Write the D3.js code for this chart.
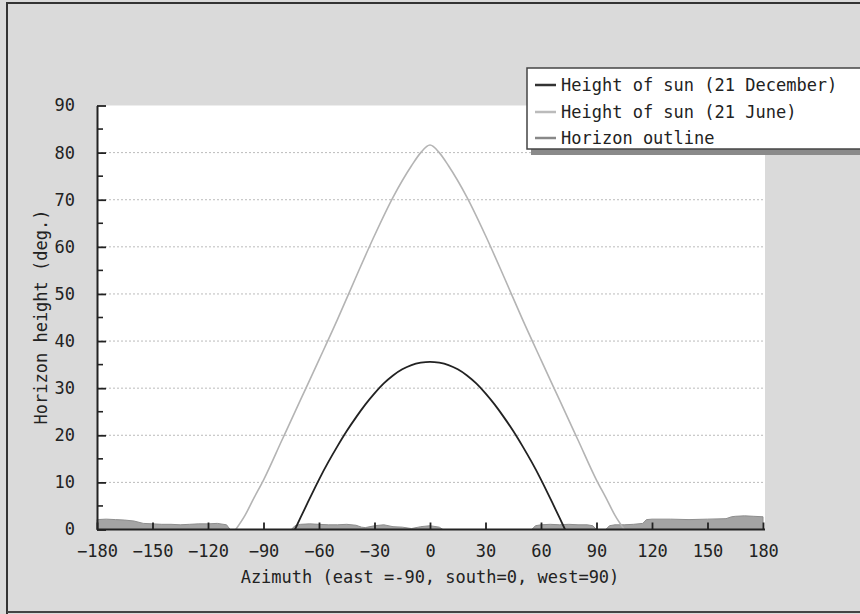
<!DOCTYPE html>
<html><head><meta charset="utf-8">
<script src="https://cdn.jsdelivr.net/npm/d3@7/dist/d3.min.js"></script>
<style>body{margin:0;background:#dcdcdc;}svg{display:block;}</style>
</head><body><svg id="c" width="860" height="614"></svg>
<script>
// ---- data ----
const xTicks = [-180,-150,-120,-90,-60,-30,0,30,60,90,120,150,180];
const yTicks = [0,10,20,30,40,50,60,70,80,90];
const decAz =  [-73,-70,-65,-60,-55,-50,-45,-40,-35,-30,-25,-20,-15,-10,-5,0,5,10,15,20,25,30,35,40,45,50,55,60,65,70,73];
const decH  =  [0,2.5,6.6,10.6,14.3,17.7,20.9,23.8,26.5,28.9,31.0,32.7,34.0,34.9,35.4,35.6,35.4,34.9,34.0,32.7,31.0,28.9,26.5,23.8,20.9,17.7,14.3,10.6,6.6,2.5,0];
const junAz =  [-105,-100,-95,-90,-80,-70,-60,-50,-40,-30,-20,-10,-5,0,5,10,20,30,40,50,60,70,80,90,95,100,105];
const junH  =  [0,3.0,6.8,10.5,19.0,27.5,36.0,44.6,53.6,62.4,70.5,77.2,80.0,81.6,80.0,77.2,70.5,62.4,53.6,44.6,36.0,27.5,19.0,10.5,6.8,3.0,0];
const horAz = [-180,-175,-170,-165,-160,-155,-150,-145,-140,-135,-130,-125,-120,-115,-110,-108,-75,-73,-70,-65,-60,-55,-50,-45,-40,-37,-35,-30,-25,-20,-15,-10,-5,0,5,7,55,57,60,65,70,75,80,85,88,90,95,97,100,105,110,115,117,120,130,140,150,160,163,165,170,175,180];
const horH  = [2.1,2.2,2.1,2.0,1.8,1.3,1.2,1.1,1.1,1.0,1.1,1.2,1.2,1.3,1.0,0,0,0.8,1.1,1.2,1.1,1.0,1.0,1.1,0.9,0.5,0.4,0.8,1.0,0.6,0.5,0.2,0.6,0.8,0.5,0,0,0.8,1.0,1.1,1.0,1.1,1.0,1.0,0.8,0,0,0.8,1.0,1.0,1.1,1.3,2.1,2.2,2.2,2.1,2.2,2.3,2.7,2.8,2.9,2.8,2.7];
const legendLabels = ["Height of sun (21 December)","Height of sun (21 June)","Horizon outline"];
const legendColors = ["#333","#bbb","#888"];

const svg = d3.select("#c");
const FONT = "'DejaVu Sans Mono', monospace";
const x = d3.scaleLinear().domain([-180,180]).range([97,763]);
const y = d3.scaleLinear().domain([0,90]).range([529.5,105.5]);

// background + frame
svg.append("rect").attr("x",0).attr("y",0).attr("width",860).attr("height",614).attr("fill","#dadada");
svg.append("path").attr("d","M7,614 V3 H870").attr("fill","none").attr("stroke","#333").attr("stroke-width",2);
svg.append("line").attr("x1",7).attr("x2",860).attr("y1",612).attr("y2",612).attr("stroke","#444").attr("stroke-width",2);

// plot area
svg.append("rect").attr("x",x(-180)).attr("y",y(90)).attr("width",x(180)-x(-180)+2).attr("height",y(0)-y(90)).attr("fill","#fff");

// grid
svg.append("g").selectAll("line").data(yTicks.filter(d=>d>0&&d<90)).join("line")
  .attr("x1",x(-180)).attr("x2",x(180)).attr("y1",d=>y(d)).attr("y2",d=>y(d))
  .attr("stroke","#bbb").attr("stroke-width",1).attr("stroke-dasharray","2,2");

// horizon outline
svg.append("path").datum(horAz.map((a,i)=>[a,horH[i]]))
  .attr("d",d3.area().x(d=>x(d[0])).y0(y(0)).y1(d=>y(d[1])))
  .attr("fill","#a4a4a4").attr("stroke","#8e8e8e").attr("stroke-width",1);

// sun lines
svg.append("path").datum(junAz.map((a,i)=>[a,junH[i]]))
  .attr("d",d3.line().x(d=>x(d[0])).y(d=>y(d[1])).curve(d3.curveMonotoneX))
  .attr("fill","none").attr("stroke","#b4b4b4").attr("stroke-width",1.6);
svg.append("path").datum(decAz.map((a,i)=>[a,decH[i]]))
  .attr("d",d3.line().x(d=>x(d[0])).y(d=>y(d[1])).curve(d3.curveNatural))
  .attr("fill","none").attr("stroke","#222").attr("stroke-width",1.8);

// axes
const xAxis = d3.axisBottom(x).tickValues(xTicks).tickSizeInner(-7).tickSizeOuter(0).tickPadding(15);
const gx = svg.append("g").attr("transform",`translate(0,${y(0)})`).call(xAxis);
gx.select(".domain").attr("stroke","#222").attr("stroke-width",2).attr("d",`M${x(-180)},0H${x(180)+2}`);
gx.selectAll(".tick line").attr("stroke","#222").attr("stroke-width",1.8);
gx.selectAll("text").attr("font-family",FONT).attr("font-size",17).attr("fill","#222");

const yAxis = d3.axisLeft(y).tickValues(yTicks).tickSizeInner(-9).tickSizeOuter(0).tickPadding(22);
const gy = svg.append("g").attr("transform",`translate(${x(-180)},0)`).call(yAxis);
gy.select(".domain").attr("stroke","#222").attr("stroke-width",2);
gy.selectAll(".tick line").attr("stroke","#222").attr("stroke-width",1.8);
gy.selectAll("text").attr("font-family",FONT).attr("font-size",17).attr("fill","#222");
// minor ticks
svg.append("g").selectAll("line").data(d3.range(5,90,10)).join("line")
  .attr("x1",x(-180)).attr("x2",x(-180)+6).attr("y1",d=>y(d)).attr("y2",d=>y(d))
  .attr("stroke","#222").attr("stroke-width",1.6);

// axis titles
svg.append("text").attr("x",430).attr("y",583).attr("text-anchor","middle")
  .attr("font-family",FONT).attr("font-size",17).attr("fill","#222")
  .text("Azimuth (east =-90, south=0, west=90)");
svg.append("text").attr("transform","translate(47,317) rotate(-90)").attr("text-anchor","middle")
  .attr("font-family",FONT).attr("font-size",17).attr("fill","#222")
  .text("Horizon height (deg.)");

// legend
const lg = svg.append("g");
lg.append("rect").attr("x",531).attr("y",73).attr("width",340).attr("height",82).attr("fill","#8a8a8a");
lg.append("rect").attr("x",527).attr("y",68).attr("width",340).attr("height",81).attr("fill","#fff").attr("stroke","#444").attr("stroke-width",1.5);
const items = lg.selectAll("g.item").data(legendLabels).join("g").attr("class","item")
  .attr("transform",(d,i)=>`translate(0,${[85,112,138][i]})`);
items.append("line").attr("x1",535).attr("x2",556).attr("y1",0).attr("y2",0)
  .attr("stroke",(d,i)=>legendColors[i]).attr("stroke-width",2.5);
items.append("text").attr("x",561).attr("y",6).attr("font-family",FONT).attr("font-size",17).attr("fill","#222").text(d=>d);
</script></body></html>
